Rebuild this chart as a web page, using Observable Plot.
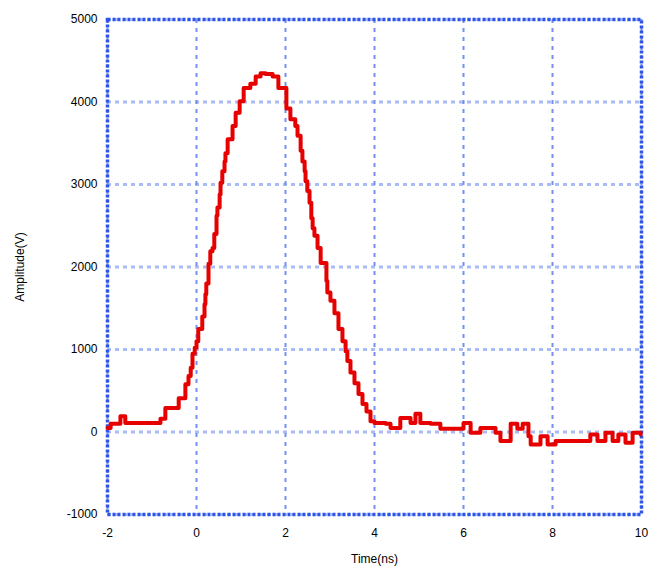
<!DOCTYPE html>
<html><head><meta charset="utf-8">
<script src="https://cdn.jsdelivr.net/npm/d3@7"></script>
<script src="https://cdn.jsdelivr.net/npm/@observablehq/plot@0.6"></script>
<style>
body{margin:0;background:#fff;}
#chart{position:relative;width:651px;height:573px;}
</style>
</head><body><div id="chart"></div>
<script>
const timeNs = [-2.0,-1.93,-1.71,-1.6,-1.26,-0.92,-0.81,-0.70,-0.47,-0.40,-0.25,-0.18,-0.13,-0.09,-0.04,0.0,0.04,0.13,0.18,0.20,0.22,0.27,0.31,0.36,0.40,0.45,0.47,0.52,0.54,0.58,0.63,0.65,0.70,0.81,0.88,0.97,1.06,1.21,1.33,1.44,1.55,1.71,1.84,2.0,2.02,2.11,2.22,2.27,2.34,2.38,2.43,2.45,2.49,2.54,2.58,2.61,2.65,2.72,2.79,2.92,2.94,3.01,3.10,3.19,3.28,3.35,3.39,3.46,3.55,3.64,3.73,3.82,3.91,4.0,4.25,4.36,4.58,4.81,4.92,5.03,5.26,5.48,5.82,6.0,6.16,6.38,6.72,6.83,7.06,7.21,7.33,7.46,7.51,7.73,7.89,8.07,8.40,8.74,8.85,9.01,9.19,9.35,9.48,9.64,9.80,9.98];
const amplitude = [50,100,190,110,110,110,160,290,290,410,580,680,780,950,1020,1100,1250,1400,1550,1670,1800,2040,2190,2230,2400,2620,2720,2880,3020,3160,3280,3380,3550,3710,3870,4010,4170,4220,4310,4350,4340,4310,4170,4170,3920,3790,3710,3590,3410,3280,3160,3040,2920,2780,2590,2470,2380,2230,2050,1830,1690,1590,1440,1250,1100,980,860,720,590,460,340,250,130,110,100,50,170,110,220,110,100,40,40,110,-10,50,-10,-110,100,40,100,-50,-150,-50,-150,-110,-110,-110,-30,-110,-10,-110,-30,-130,-10,-30];
const xTicks = [-2,0,2,4,6,8,10];
const yTicks = [-1000,0,1000,2000,3000,4000,5000];
const xLabel = "Time(ns)";
const yLabel = "Amplitude(V)";

const data = timeNs.map((t,i)=>({t, v: amplitude[i]}));

const chart = Plot.plot({
  width: 651, height: 573,
  marginLeft: 107, marginRight: 10, marginTop: 19, marginBottom: 59,
  style: {fontFamily: "Liberation Sans, Arial, sans-serif", fontSize: "12px", color: "#000", background: "#fff"},
  x: {domain: [-2,10], ticks: xTicks, tickFormat: d => String(d), label: xLabel, labelAnchor: "center", labelArrow: false, labelOffset: 48, tickSize: 0, tickPadding: 14},
  y: {domain: [-1000,5000], ticks: yTicks, tickFormat: d => String(d), label: yLabel, labelAnchor: "center", labelArrow: false, labelOffset: 92, tickSize: 0, tickPadding: 10},
  marks: [
    Plot.gridX(xTicks, {stroke: "#5a7ef0", strokeOpacity: 0.85, strokeWidth: 2, strokeDasharray: "4,5"}),
    Plot.gridY(yTicks, {stroke: "#6f8ff2", strokeOpacity: 0.6, strokeWidth: 3, strokeDasharray: "4,4"}),
    Plot.frame({stroke: "#2f55e6", strokeWidth: 3.5, strokeDasharray: "3,2"}),
    Plot.line(data, {x: "t", y: "v", stroke: "#e60000", strokeWidth: 4, curve: "step-after"})
  ]
});
document.getElementById("chart").appendChild(chart);
</script>
</body></html>
